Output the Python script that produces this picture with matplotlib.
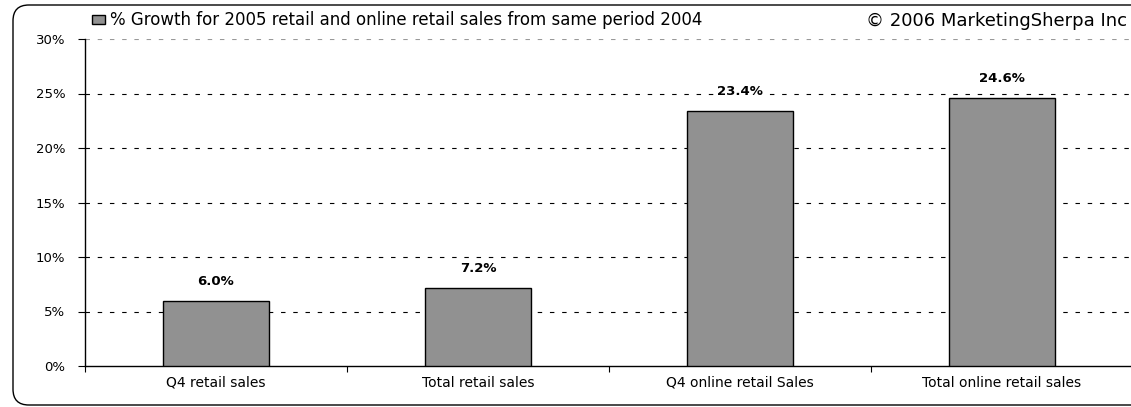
import numpy as np
import matplotlib
matplotlib.use("Agg")
import matplotlib.pyplot as plt
from matplotlib.patches import FancyBboxPatch
from matplotlib.ticker import FuncFormatter

categories = ["Q4 retail sales", "Total retail sales", "Q4 online retail Sales", "Total online retail sales"]
growth = [6.0, 7.2, 23.4, 24.6]
value_labels = ["6.0%", "7.2%", "23.4%", "24.6%"]
yticks = [0, 5, 10, 15, 20, 25, 30]
series_name = "% Growth for 2005 retail and online retail sales from same period 2004"
credit = "\u00a9 2006 MarketingSherpa Inc"

W, H = 1131, 407
fig = plt.figure(figsize=(W / 100, H / 100), dpi=100)
fig.patch.set_facecolor("white")

# rounded frame around the chart (runs off the right edge)
frame = FancyBboxPatch((13 / W, 2 / H), 1200 / W, 400 / H,
                       boxstyle="round,pad=0,rounding_size=0.014",
                       transform=fig.transFigure, fill=False,
                       edgecolor="black", linewidth=1.0,
                       mutation_aspect=W / H)
fig.patches.append(frame)

ax = fig.add_axes([85 / W, 1 - 366 / H, 1048 / W, (366 - 39) / H])
x = np.arange(len(categories))
bars = ax.bar(x, growth, width=0.405, color="#919191", edgecolor="black",
              linewidth=1.0, label=series_name, zorder=3)

ax.set_xlim(-0.5, len(categories) - 0.5)
ax.set_ylim(0, 30)

# dashed gridlines, the top one lighter
for v in yticks[1:]:
    ax.axhline(v, color="#999999" if v == 30 else "black", linestyle=(0, (4, 7)),
               linewidth=0.8, zorder=1)

ax.set_yticks(yticks)
ax.yaxis.set_major_formatter(FuncFormatter(lambda v, p: f"{v:.0f}%"))
ax.tick_params(axis="y", direction="out", length=5, width=0.8, labelsize=9.5, pad=9)

ax.set_xticks(np.arange(len(categories) + 1) - 0.5, minor=False)
ax.set_xticklabels([])
ax.set_xticks(x, minor=True)
ax.set_xticklabels(categories, minor=True, fontsize=10)
ax.tick_params(axis="x", which="major", direction="out", length=4, width=0.8)
ax.tick_params(axis="x", which="minor", length=0, pad=7)

for s in ["top", "right"]:
    ax.spines[s].set_visible(False)
ax.spines["left"].set_linewidth(1.0)
ax.spines["bottom"].set_linewidth(1.0)

for b, lab in zip(bars, value_labels):
    ax.annotate(lab, (b.get_x() + b.get_width() / 2, b.get_height()),
                xytext=(0, 9), textcoords="offset points",
                ha="center", va="bottom", fontsize=9.5, fontweight="bold",
                bbox=dict(facecolor="white", edgecolor="none", pad=1.5),
                zorder=4)

fig.legend(handles=[bars], labels=[series_name], loc="center left",
           bbox_to_anchor=(92 / W, 1 - 20 / H), frameon=False,
           fontsize=12, handlelength=0.75, handleheight=0.45,
           handletextpad=0.35, borderaxespad=0, borderpad=0)

fig.text(1127 / W, 1 - 21 / H, credit, ha="right", va="center", fontsize=13)

fig.savefig("out.png", dpi=100)
